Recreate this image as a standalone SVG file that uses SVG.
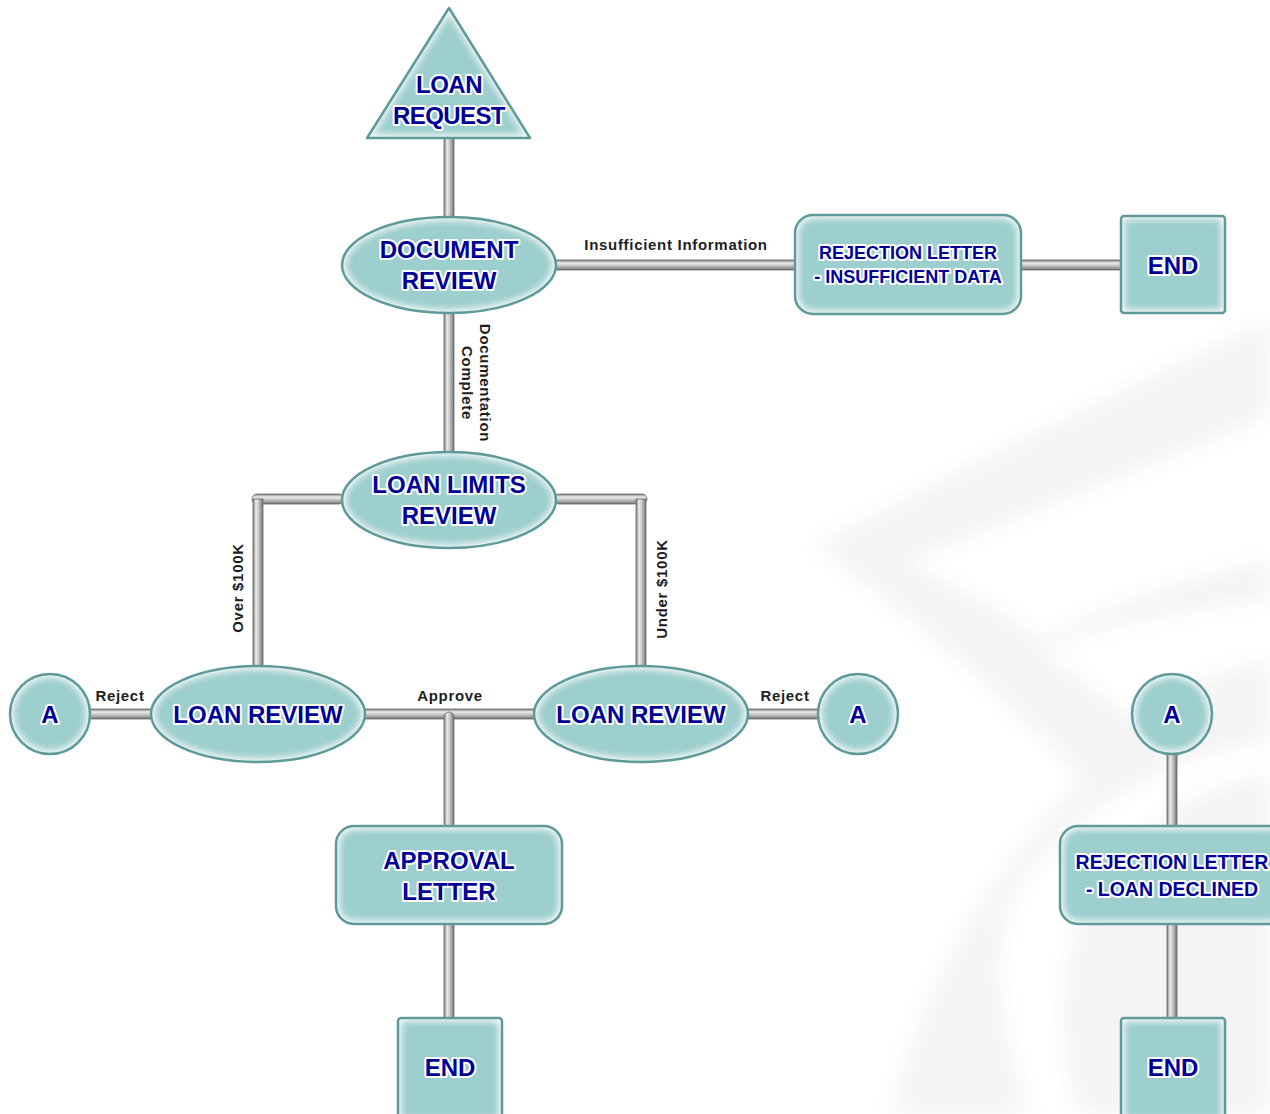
<svg xmlns="http://www.w3.org/2000/svg" width="1270" height="1114" viewBox="0 0 1270 1114">
  <defs>
    <style>
      .fill { fill: #9dcfcf; filter: url(#innerGlow); }
      .edge { fill: none; stroke: #5f9a9a; stroke-width: 2.5; }
      .title { font-family: "Liberation Sans", Arial, sans-serif; font-weight: bold; fill: #000099;
               stroke: #ffffff; stroke-width: 4; stroke-linejoin: round; paint-order: stroke; text-anchor: middle; }
      .t24 { font-size: 24px; }
      .t18 { font-size: 18px; }
      .t19 { font-size: 19.5px; }
      .lbl { font-family: "Liberation Sans", Arial, sans-serif; font-weight: bold; font-size: 15px;
             fill: #1e1e1e; letter-spacing: 0.7px; text-anchor: middle; }
      .ph { fill: url(#pipeH); stroke: #6a6a6a; stroke-width: 0.8; }
      .pv { fill: url(#pipeV); stroke: #6a6a6a; stroke-width: 0.8; }
    </style>
    <!-- soft white rim just inside each shape -->
    <filter id="innerGlow" x="-10%" y="-10%" width="120%" height="120%">
      <feFlood flood-color="#ffffff" result="white"/>
      <feComposite in="white" in2="SourceAlpha" operator="out" result="outside"/>
      <feGaussianBlur in="outside" stdDeviation="5" result="blurred"/>
      <feComposite in="blurred" in2="SourceAlpha" operator="in" result="rim"/>
      <feMerge><feMergeNode in="SourceGraphic"/><feMergeNode in="rim"/><feMergeNode in="rim"/></feMerge>
    </filter>
    <filter id="soft" x="-5%" y="-5%" width="110%" height="110%">
      <feGaussianBlur stdDeviation="10"/>
    </filter>
    <!-- metallic pipe shading -->
    <linearGradient id="pipeH" x1="0" y1="0" x2="0" y2="1">
      <stop offset="0" stop-color="#7a7a7a"/>
      <stop offset="0.3" stop-color="#ececec"/>
      <stop offset="0.6" stop-color="#c2c2c2"/>
      <stop offset="1" stop-color="#707070"/>
    </linearGradient>
    <linearGradient id="pipeV" x1="0" y1="0" x2="1" y2="0">
      <stop offset="0" stop-color="#7a7a7a"/>
      <stop offset="0.3" stop-color="#ececec"/>
      <stop offset="0.6" stop-color="#c2c2c2"/>
      <stop offset="1" stop-color="#707070"/>
    </linearGradient>
  </defs>

  <rect width="1270" height="1114" fill="#ffffff"/>

  <!-- faint swoosh backdrop -->
  <g id="backdrop" filter="url(#soft)" opacity="0.7">
    <path d="M1270 320 C1110 395 960 470 815 545 C900 610 1000 690 1085 780 C1000 860 930 960 890 1114 L1270 1114 Z" fill="#f0f0f0"/>
    <path d="M1270 415 C1140 470 1010 520 905 562 C960 590 1010 615 1040 640 C1120 600 1200 575 1270 560 Z" fill="#ffffff"/>
    <path d="M1270 600 C1180 610 1100 625 1040 650 C1080 680 1110 700 1130 720 C1170 690 1220 670 1270 660 Z" fill="#ffffff"/>
    <path d="M1270 740 C1150 760 1060 820 1010 900 C990 960 1000 1040 1030 1114 L1080 1114 C1050 1020 1060 930 1120 860 C1170 800 1230 780 1270 775 Z" fill="#ffffff"/>
  </g>

  <!-- connectors -->
  <g id="connectors">
    <rect class="pv" x="444" y="136" width="10" height="82"/>
    <rect class="ph" x="554" y="260" width="243" height="10"/>
    <rect class="ph" x="1019" y="260" width="104" height="10"/>
    <rect class="pv" x="444" y="311" width="10" height="143"/>
    <rect class="ph" x="252" y="494" width="92" height="10" rx="5"/>
    <rect class="pv" x="253" y="499" width="10" height="170"/>
    <rect class="ph" x="554" y="494" width="93" height="10" rx="5"/>
    <rect class="pv" x="636" y="499" width="10" height="170"/>
    <rect class="ph" x="88" y="709" width="65" height="10"/>
    <rect class="ph" x="364" y="709" width="172" height="10"/>
    <rect class="pv" x="444" y="712" width="10" height="116" rx="5"/>
    <rect class="ph" x="746" y="709" width="74" height="10"/>
    <rect class="pv" x="444" y="922" width="10" height="98"/>
    <rect class="pv" x="1167" y="752" width="10" height="76"/>
    <rect class="pv" x="1167" y="922" width="10" height="98"/>

    <text class="lbl" x="676" y="250">Insufficient Information</text>
    <text class="lbl" transform="translate(480 383) rotate(90)">Documentation</text>
    <text class="lbl" transform="translate(462 383) rotate(90)">Complete</text>
    <text class="lbl" transform="translate(243 588) rotate(-90)">Over $100K</text>
    <text class="lbl" transform="translate(667 589) rotate(-90)">Under $100K</text>
    <text class="lbl" x="120" y="701">Reject</text>
    <text class="lbl" x="450" y="701">Approve</text>
    <text class="lbl" x="785" y="701">Reject</text>
  </g>

  <g id="loan-request">
    <polygon class="fill" points="449,8 530,138 367,138"/>
    <polygon class="edge" points="449,8 530,138 367,138" stroke-linejoin="round"/>
    <text class="title t24" x="449" y="93" letter-spacing="-0.5">LOAN</text>
    <text class="title t24" x="449" y="124" letter-spacing="-0.6">REQUEST</text>
  </g>

  <g id="document-review">
    <ellipse class="fill" cx="449" cy="265" rx="107" ry="48"/>
    <ellipse class="edge" cx="449" cy="265" rx="107" ry="48"/>
    <text class="title t24" x="449" y="258">DOCUMENT</text>
    <text class="title t24" x="449" y="289">REVIEW</text>
  </g>

  <g id="rejection-insufficient">
    <rect class="fill" x="795" y="215" width="226" height="99" rx="18"/>
    <rect class="edge" x="795" y="215" width="226" height="99" rx="18"/>
    <text class="title t18" x="908" y="259">REJECTION LETTER</text>
    <text class="title t18" x="908" y="283">- INSUFFICIENT DATA</text>
  </g>

  <g id="end-1">
    <rect class="fill" x="1121" y="216" width="104" height="97" rx="3"/>
    <rect class="edge" x="1121" y="216" width="104" height="97" rx="3"/>
    <text class="title t24" x="1173" y="274">END</text>
  </g>

  <g id="loan-limits-review">
    <ellipse class="fill" cx="449" cy="500" rx="107" ry="48"/>
    <ellipse class="edge" cx="449" cy="500" rx="107" ry="48"/>
    <text class="title t24" x="449" y="493">LOAN LIMITS</text>
    <text class="title t24" x="449" y="524">REVIEW</text>
  </g>

  <g id="loan-review-over">
    <ellipse class="fill" cx="258" cy="714" rx="107" ry="48"/>
    <ellipse class="edge" cx="258" cy="714" rx="107" ry="48"/>
    <text class="title t24" x="258" y="723">LOAN REVIEW</text>
  </g>

  <g id="loan-review-under">
    <ellipse class="fill" cx="641" cy="714" rx="107" ry="48"/>
    <ellipse class="edge" cx="641" cy="714" rx="107" ry="48"/>
    <text class="title t24" x="641" y="723">LOAN REVIEW</text>
  </g>

  <g id="connector-a-left">
    <circle class="fill" cx="50" cy="714" r="40"/>
    <circle class="edge" cx="50" cy="714" r="40"/>
    <text class="title t24" x="50" y="723">A</text>
  </g>

  <g id="connector-a-right">
    <circle class="fill" cx="858" cy="714" r="40"/>
    <circle class="edge" cx="858" cy="714" r="40"/>
    <text class="title t24" x="858" y="723">A</text>
  </g>

  <g id="approval-letter">
    <rect class="fill" x="336" y="826" width="226" height="98" rx="18"/>
    <rect class="edge" x="336" y="826" width="226" height="98" rx="18"/>
    <text class="title t24" x="449" y="869">APPROVAL</text>
    <text class="title t24" x="449" y="900">LETTER</text>
  </g>

  <g id="end-2">
    <rect class="fill" x="398" y="1018" width="104" height="104" rx="3"/>
    <rect class="edge" x="398" y="1018" width="104" height="104" rx="3"/>
    <text class="title t24" x="450" y="1076">END</text>
  </g>

  <g id="connector-a-start">
    <circle class="fill" cx="1172" cy="714" r="40"/>
    <circle class="edge" cx="1172" cy="714" r="40"/>
    <text class="title t24" x="1172" y="723">A</text>
  </g>

  <g id="rejection-declined">
    <rect class="fill" x="1060" y="826" width="228" height="98" rx="18"/>
    <rect class="edge" x="1060" y="826" width="228" height="98" rx="18"/>
    <text class="title t19" x="1172" y="869">REJECTION LETTER</text>
    <text class="title t19" x="1172" y="896">- LOAN DECLINED</text>
  </g>

  <g id="end-3">
    <rect class="fill" x="1121" y="1018" width="104" height="104" rx="3"/>
    <rect class="edge" x="1121" y="1018" width="104" height="104" rx="3"/>
    <text class="title t24" x="1173" y="1076">END</text>
  </g>
</svg>
